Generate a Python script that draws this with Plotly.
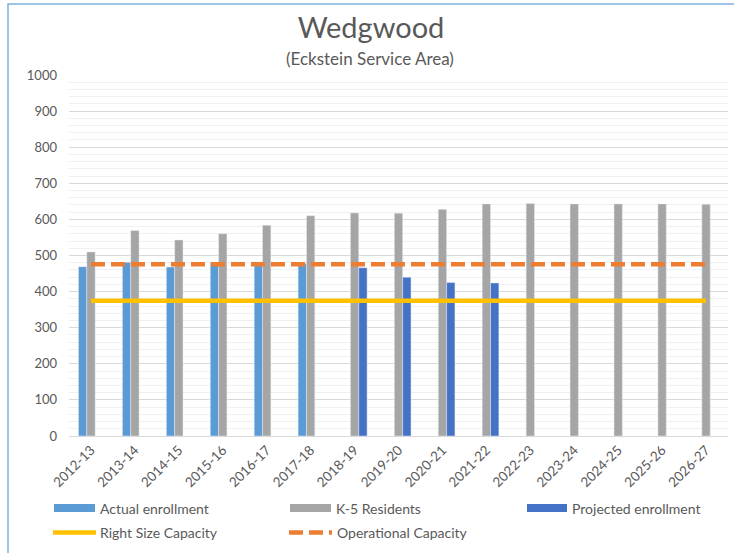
import plotly.graph_objects as go

# School years on the category axis
years = ["2012-13", "2013-14", "2014-15", "2015-16", "2016-17", "2017-18", "2018-19",
         "2019-20", "2020-21", "2021-22", "2022-23", "2023-24", "2024-25", "2025-26", "2026-27"]

actual_enrollment = [469, 481, 468, 481, 478, 478, None, None, None, None, None, None, None, None, None]
k5_residents = [510, 569, 543, 560, 584, 610, 618, 617, 628, 643, 644, 643, 643, 643, 642]
projected_enrollment = [None, None, None, None, None, None, 466, 440, 425, 424, None, None, None, None, None]
right_size_capacity = [375] * len(years)
operational_capacity = [476] * len(years)

C_ACTUAL = "#5B9BD5"
C_K5 = "#A5A5A5"
C_PROJ = "#4472C4"
C_RIGHT = "#FFC000"
C_OPER = "#ED7D31"
TXT = "#595959"
FONT = "Lato"

W, H = 734, 553
L, R, T, B = 69, 6, 75, 117


def px(x):
    return (x - L) / (W - L - R)


def py(y):
    return (H - B - y) / (H - T - B)


fig = go.Figure()
fig.add_trace(go.Bar(x=years, y=actual_enrollment, name="Actual enrollment", marker_color=C_ACTUAL))
fig.add_trace(go.Bar(x=years, y=k5_residents, name="K-5 Residents", marker_color=C_K5))
fig.add_trace(go.Bar(x=years, y=projected_enrollment, name="Projected enrollment", marker_color=C_PROJ))
fig.add_trace(go.Scatter(x=years, y=right_size_capacity, name="Right Size Capacity", mode="lines",
                         line=dict(color=C_RIGHT, width=4.5)))
fig.add_trace(go.Scatter(x=years, y=operational_capacity, name="Operational Capacity", mode="lines",
                         line=dict(color=C_OPER, width=4.5, dash="14px,6px")))

shapes = []
annotations = []

# Hand-built legend: wide swatches like the spreadsheet style
legend_items = [
    ("bar", C_ACTUAL, "Actual enrollment", 54, 95, 508, 98),
    ("bar", C_K5, "K-5 Residents", 290, 331, 508, 334),
    ("bar", C_PROJ, "Projected enrollment", 527, 567, 508, 570),
    ("line", C_RIGHT, "Right Size Capacity", 53, 96, 532.5, 98),
    ("dash", C_OPER, "Operational Capacity", 289, 332, 532.5, 335),
]
for kind, color, label, x0, x1, yc, xt in legend_items:
    if kind == "bar":
        shapes.append(dict(type="rect", xref="paper", yref="paper",
                           x0=px(x0), x1=px(x1), y0=py(yc + 4), y1=py(yc - 4),
                           fillcolor=color, line=dict(width=0)))
    else:
        shapes.append(dict(type="line", xref="paper", yref="paper",
                           x0=px(x0), x1=px(x1), y0=py(yc), y1=py(yc),
                           line=dict(color=color, width=4.5,
                                     dash="solid" if kind == "line" else "14px,6px")))
    annotations.append(dict(text=label, xref="paper", yref="paper", x=px(xt), y=py(yc),
                            xanchor="left", yanchor="middle", showarrow=False,
                            font=dict(family=FONT, size=14, color=TXT)))

# Subtitle
annotations.append(dict(text="(Eckstein Service Area)", xref="paper", yref="paper",
                        x=px(370), y=py(59), xanchor="center", yanchor="middle", showarrow=False,
                        font=dict(family=FONT, size=17, color=TXT)))

# Chart frame
shapes.append(dict(type="rect", xref="paper", yref="paper",
                   x0=px(8), x1=px(740), y0=py(560), y1=py(4),
                   line=dict(color="#7FB0DF", width=1.5), fillcolor="rgba(0,0,0,0)", layer="below"))

fig.update_layout(
    width=W, height=H,
    margin=dict(l=L, r=R, t=T, b=B),
    paper_bgcolor="white", plot_bgcolor="white",
    barmode="group", bargap=0.43, bargroupgap=0,
    showlegend=False,
    title=dict(text="Wedgwood", x=371 / W, xanchor="center", y=1 - 28 / H, yanchor="middle",
               font=dict(family=FONT, size=29, color=TXT)),
    font=dict(family=FONT, color=TXT),
    shapes=shapes,
    annotations=annotations,
    xaxis=dict(type="category", showgrid=False, showline=True, linecolor="#D9D9D9", linewidth=1,
               tickangle=-45, tickfont=dict(family=FONT, size=13.5, color=TXT), ticks=""),
    yaxis=dict(range=[0, 1000], dtick=100, showgrid=True, gridcolor="#D9D9D9", gridwidth=1,
               zeroline=False, showline=False, ticks="",
               tickfont=dict(family=FONT, size=13, color=TXT), ticklabelstandoff=11,
               minor=dict(dtick=20, showgrid=True, gridcolor="#F0F0F0", gridwidth=1)),
)

fig.write_html("out.html")
